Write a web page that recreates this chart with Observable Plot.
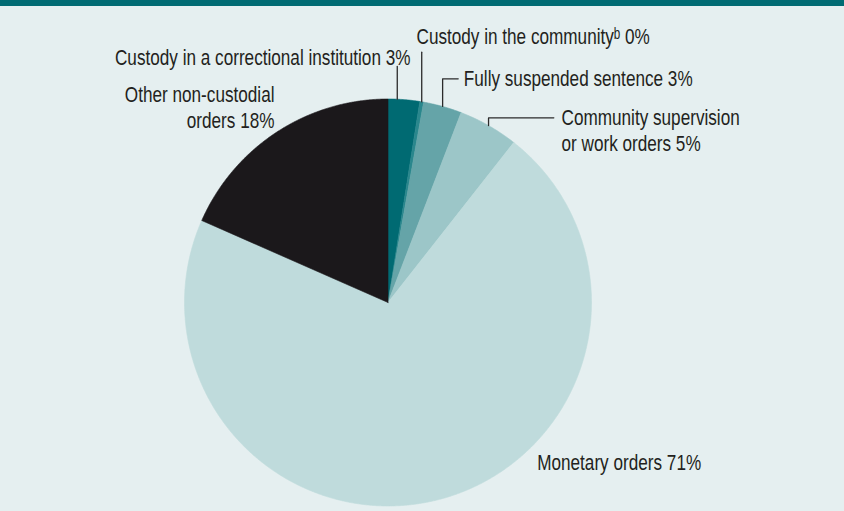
<!DOCTYPE html>
<html><head><meta charset="utf-8">
<script src="https://cdn.jsdelivr.net/npm/d3@7"></script>
<script src="https://cdn.jsdelivr.net/npm/@observablehq/plot@0.6"></script>
<style>
html,body{margin:0;padding:0;background:#e5eff0;}
#band{height:6px;background:#006b73;}
#chart svg{display:block;}
</style></head><body><div id="band"></div><div id="chart"></div>
<script>
// ---- data ----
const categories = [
  "Custody in a correctional institution",
  "Custody in the communityᵇ",
  "Fully suspended sentence",
  "Community supervision\nor work orders",
  "Monetary orders",
  "Other non-custodial\norders"
];
const shares = [2.5, 0.3, 3.05, 4.75, 71.0, 18.4];
const percentLabels = ["3%", "0%", "3%", "5%", "71%", "18%"];

// ---- styles ----
const sliceColors = ["#006a72", "#2a878d", "#65a4a8", "#9cc6c8", "#bfdbdc", "#1b181b"];
const FONT = "'Liberation Sans', Arial, sans-serif";
const FONT_SIZE = 22, CONDENSE = 0.78;

// ---- layout (pixels) ----
const W = 844, H = 505, cx = 387.5, cy = 296, R = 203.5;
const labelLayout = [
  {anchor: 0.29, elbowY: 60, tx: 410, ty: 58, align: "end"},
  {anchor: 0.5, elbowY: 45.7, tx: 416, ty: 37.3, align: "start"},
  {anchor: 0.5, elbowY: 72.3, elbowX: 457.7, tx: 463.3, ty: 79, align: "start"},
  {anchor: 0.5, elbowY: 111.3, elbowX: 553.3, tx: 561, ty: 144, align: "start"},
  {tx: 536.7, ty: 463.3, align: "start"},
  {tx: 274, ty: 121.3, align: "end"}
];

const arcs = d3.pie().sort(null).value(d => d)(shares);

const slices = arcs.map((a, i) => {
  const pts = [{x: 0, y: 0}];
  const n = Math.max(2, Math.ceil((a.endAngle - a.startAngle) / (Math.PI / 720)));
  for (let k = 0; k <= n; k++) {
    const t = a.startAngle + (a.endAngle - a.startAngle) * k / n;
    pts.push({x: R * Math.sin(t), y: -R * Math.cos(t)});
  }
  pts.push({x: 0, y: 0});
  return {pts, color: sliceColors[i]};
});

const leaders = [];
labelLayout.forEach((L, i) => {
  if (L.anchor === undefined) return;
  const a = arcs[i];
  const t = a.startAngle + L.anchor * (a.endAngle - a.startAngle);
  const x0 = R * Math.sin(t), y0 = -R * Math.cos(t);
  leaders.push({id: i, x: x0, y: y0});
  leaders.push({id: i, x: x0, y: L.elbowY - cy});
  if (L.elbowX !== undefined) leaders.push({id: i, x: L.elbowX - cx, y: L.elbowY - cy});
});

const labels = labelLayout.map((L, i) => ({
  x: L.tx - cx, y: L.ty - cy, align: L.align,
  text: categories[i] + " " + percentLabels[i]
}));

const textOpts = {x: "x", y: "y", text: "text", lineAnchor: "bottom", lineHeight: 1.17, fontSize: FONT_SIZE, fill: "#231f20"};
const marks = [
  ...slices.map(s => Plot.line(s.pts, {x: "x", y: "y", fill: s.color, stroke: s.color, strokeWidth: 0.6, curve: "linear"})),
  Plot.line(leaders, {x: "x", y: "y", z: "id", stroke: "#2b2b2b", strokeWidth: 1.3}),
  Plot.text(labels.filter(d => d.align === "start"), {...textOpts, textAnchor: "start"}),
  Plot.text(labels.filter(d => d.align === "end"), {...textOpts, textAnchor: "end"})
];

const chart = Plot.plot({
  width: W, height: H, margin: 0,
  x: {domain: [-cx, W - cx], range: [0, W], axis: null},
  y: {domain: [-cy, H - cy], range: [0, H], axis: null},
  style: {background: "transparent", fontFamily: FONT},
  marks
});
document.getElementById("chart").appendChild(chart);

// condense label glyphs horizontally around their anchor (condensed typeface look)
chart.querySelectorAll("text").forEach(el => {
  const x = parseFloat(el.getAttribute("x")) || 0;
  const tr = el.getAttribute("transform") || "";
  el.setAttribute("transform", `${tr} translate(${x},0) scale(${CONDENSE},1) translate(${-x},0)`.trim());
});
</script></body></html>
